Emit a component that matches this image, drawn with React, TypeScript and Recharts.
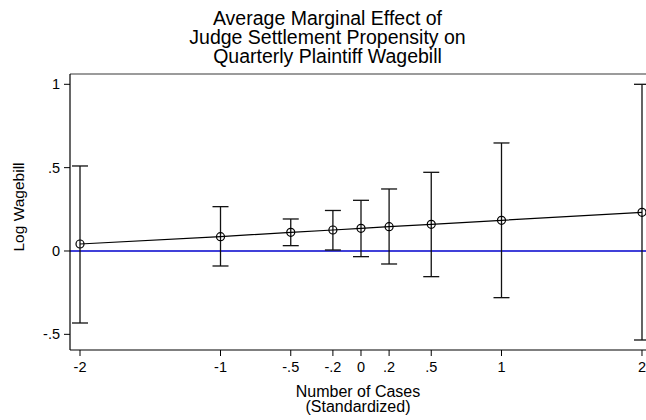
import React from "react";
import {
  ComposedChart,
  Line,
  XAxis,
  YAxis,
  ErrorBar,
  ReferenceLine,
} from "recharts";

// Standardized number of cases at which the marginal effect is evaluated
const caseLevels = [-2, -1, -0.5, -0.2, 0, 0.2, 0.5, 1, 2];
// Average marginal effect on log wagebill
const marginalEffect = [0.042, 0.086, 0.112, 0.126, 0.136, 0.146, 0.16, 0.184, 0.232];
// 95% confidence bounds
const ciLower = [-0.432, -0.09, 0.032, 0.006, -0.034, -0.078, -0.154, -0.28, -0.534];
const ciUpper = [0.51, 0.266, 0.192, 0.243, 0.304, 0.372, 0.472, 0.648, 1.0];

const xTicks = [-2, -1, -0.5, -0.2, 0, 0.2, 0.5, 1, 2];
const yTicks = [-0.5, 0, 0.5, 1];

const titleLines = [
  "Average Marginal Effect of",
  "Judge Settlement Propensity on",
  "Quarterly Plaintiff Wagebill",
];
const xTitleLines = ["Number of Cases", "(Standardized)"];
const yTitle = "Log Wagebill";

const X_MIN = -2.0712;
const X_MAX = 2.0285;
const Y_MIN = -0.594;
const Y_MAX = 1.0618;

const FONT = "'Liberation Sans', Arial, Helvetica, sans-serif";

const rows = caseLevels.map((x, i) => ({
  x,
  y: marginalEffect[i],
  err: [marginalEffect[i] - ciLower[i], ciUpper[i] - marginalEffect[i]],
}));

// Stata-style numeric labels: ".5" rather than "0.5"
const fmt = (v: number) => {
  if (v === 0) return "0";
  const s = String(v);
  return s.replace(/^(-?)0\./, "$1.");
};

export default function App() {
  return (
    <div
      style={{
        position: "absolute",
        left: 0,
        top: 0,
        width: 646,
        height: 420,
        background: "#fff",
        fontFamily: FONT,
      }}
    >
      <ComposedChart
        width={646}
        height={420}
        data={rows}
        margin={{ top: 74, right: 0, bottom: 0, left: 0 }}
      >
        <XAxis
          dataKey="x"
          type="number"
          domain={[X_MIN, X_MAX]}
          allowDataOverflow
          ticks={xTicks}
          tickFormatter={fmt}
          height={70}
          tickSize={6}
          tickMargin={6}
          axisLine={{ stroke: "#000", strokeWidth: 1.2 }}
          tickLine={{ stroke: "#000", strokeWidth: 1 }}
          tick={{ fill: "#000", fontSize: 14.5, fontFamily: FONT }}
          interval={0}
        />
        <YAxis
          type="number"
          domain={[Y_MIN, Y_MAX]}
          allowDataOverflow
          ticks={yTicks}
          tickFormatter={fmt}
          width={70}
          tickSize={6}
          tickMargin={4}
          axisLine={{ stroke: "#000", strokeWidth: 1.2 }}
          tickLine={{ stroke: "#000", strokeWidth: 1 }}
          tick={{ fill: "#000", fontSize: 14.5, fontFamily: FONT }}
          interval={0}
        />
        <ReferenceLine
          y={Y_MAX}
          stroke="#7a7a7a"
          strokeWidth={1.6}
          ifOverflow="visible"
        />
        <ReferenceLine y={0} stroke="#0000cc" strokeWidth={1.5} />
        <Line
          dataKey="y"
          type="linear"
          stroke="#000"
          strokeWidth={1.2}
          isAnimationActive={false}
          dot={{ r: 4, fill: "none", stroke: "#000", strokeWidth: 1.2 }}
          activeDot={false}
        >
          <ErrorBar
            dataKey="err"
            direction="y"
            width={8}
            stroke="#111"
            strokeWidth={1.3}
            isAnimationActive={false}
          />
        </Line>
      </ComposedChart>
      <svg
        width={646}
        height={420}
        style={{ position: "absolute", left: 0, top: 0, pointerEvents: "none" }}
      >
        {titleLines.map((t, i) => (
          <text
            key={t}
            x={327.5}
            y={25 + i * 19}
            textAnchor="middle"
            fontSize={19.5}
            fontFamily={FONT}
            fill="#000"
          >
            {t}
          </text>
        ))}
        {xTitleLines.map((t, i) => (
          <text
            key={t}
            x={358}
            y={397 + i * 14.5}
            textAnchor="middle"
            fontSize={16}
            fontFamily={FONT}
            fill="#000"
          >
            {t}
          </text>
        ))}
        <text
          x={0}
          y={0}
          transform="translate(24,207) rotate(-90)"
          textAnchor="middle"
          fontSize={15.5}
          fontFamily={FONT}
          fill="#000"
        >
          {yTitle}
        </text>
      </svg>
    </div>
  );
}
